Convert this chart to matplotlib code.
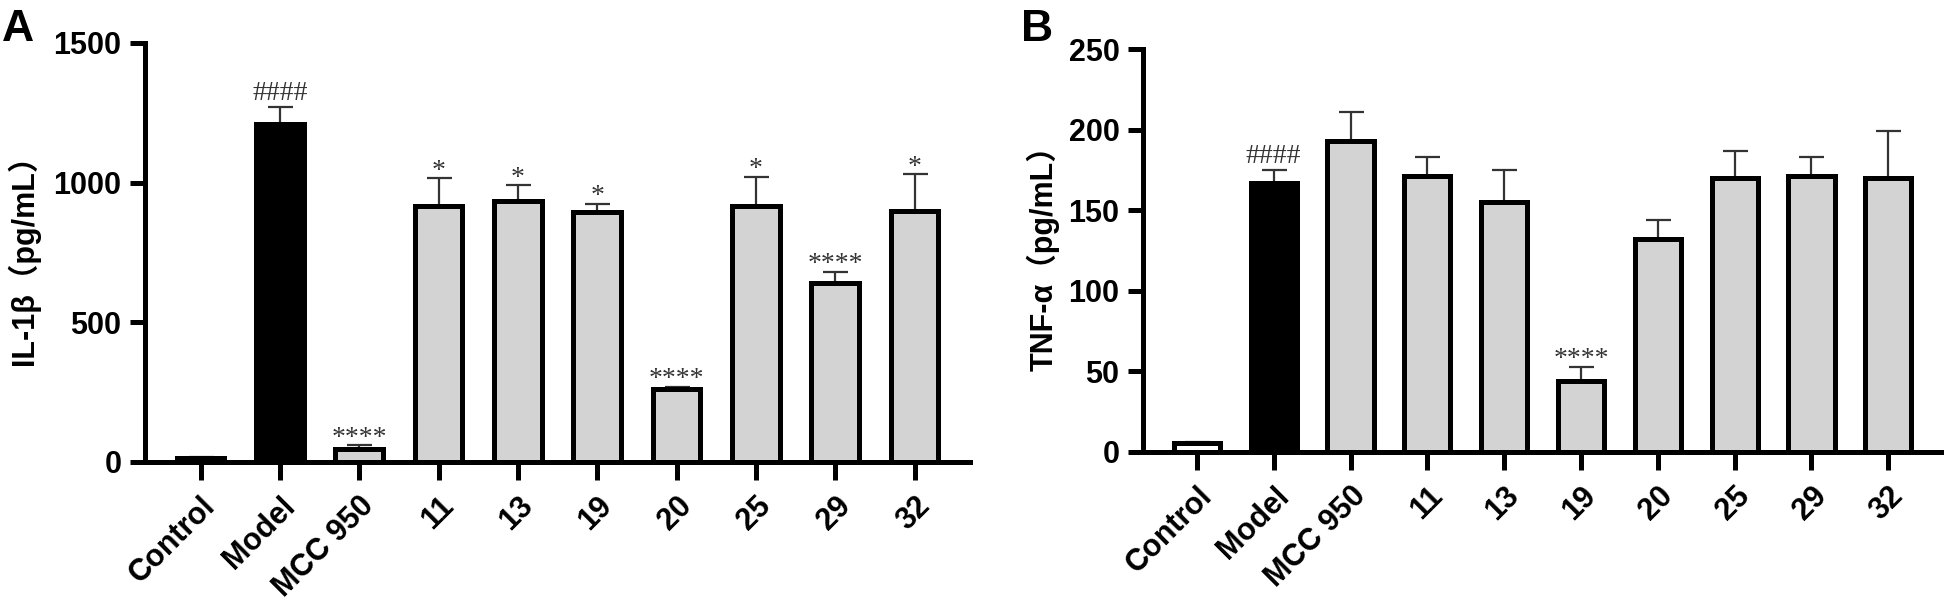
import matplotlib
matplotlib.use('Agg')
import matplotlib.pyplot as plt
import numpy as np

# === Dados ===
grupos = ['Control', 'Model', 'MCC 950', '11', '13', '19', '20', '25', '29', '32']

il1b_media = [15, 1210, 45, 915, 935, 895, 262, 915, 640, 900]
il1b_erro = [4, 60, 15, 100, 55, 30, 8, 105, 40, 130]
il1b_sig = ['', '####', '****', '*', '*', '*', '****', '*', '****', '*']

tnf_media = [5.5, 167, 193, 171, 155, 44, 132, 170, 171, 170]
tnf_erro = [1, 8, 18, 12, 20, 9, 12, 17, 12, 29]
tnf_sig = ['', '####', '', '', '', '****', '', '', '', '']

cores = ['white', 'black'] + ['#d3d3d3'] * 8

plt.rcParams['font.family'] = ['Liberation Sans', 'Noto Sans CJK SC', 'DejaVu Sans']
plt.rcParams['font.weight'] = 'bold'

fig = plt.figure(figsize=(19.44, 6.05), dpi=100)
axA = fig.add_axes([0.0746, 0.2364, 0.4244, 0.6926])
axB = fig.add_axes([0.588, 0.2529, 0.411, 0.666])


def plotar_painel(ax, medias, erros, sig, ymax, passo, rotulo_y, pos_rotulo):
    x = np.arange(len(grupos))
    ax.bar(x, medias, width=0.6, color=cores, edgecolor='black',
           linewidth=3.6, zorder=2)
    ax.errorbar(x, medias, yerr=[np.zeros(len(erros)), erros], fmt='none',
                ecolor='#333333', elinewidth=1.6, capsize=9, capthick=1.6,
                zorder=1)
    for xi, m, e, s in zip(x, medias, erros, sig):
        if not s:
            continue
        off = 5 if s.startswith('#') else 0.5
        ax.annotate(s, (xi, m + e), xytext=(0, off), textcoords='offset points',
                    ha='center', va='baseline', fontsize=20, color='#333333',
                    family='Liberation Serif', fontweight='normal')

    ax.set_xlim(-0.7, len(grupos) - 0.3)
    ax.set_ylim(0, ymax)
    ax.set_yticks(np.arange(0, ymax + 1, passo))
    ax.set_xticks(x)
    ax.set_xticklabels(grupos, rotation=45, ha='right', rotation_mode='anchor')
    for lado in ['top', 'right']:
        ax.spines[lado].set_visible(False)
    for lado in ['left', 'bottom']:
        ax.spines[lado].set_linewidth(3.6)
    ax.tick_params(axis='y', length=11, width=3.6, labelsize=22, pad=6)
    ax.tick_params(axis='x', length=13, width=3.6, labelsize=22, pad=8)
    ax.set_ylabel(rotulo_y, fontsize=22, fontweight='bold')
    ax.yaxis.set_label_coords(pos_rotulo, 0.5)


plotar_painel(axA, il1b_media, il1b_erro, il1b_sig, 1500, 500,
              'IL-1β（pg/mL）', -0.127)
plotar_painel(axB, tnf_media, tnf_erro, tnf_sig, 250, 50,
              'TNF-α（pg/mL）', -0.104)

fig.text(0.001, 0.985, 'A', fontsize=32, fontweight='bold', va='top')
fig.text(0.525, 0.985, 'B', fontsize=32, fontweight='bold', va='top')

plt.savefig('out.png', dpi=100)
